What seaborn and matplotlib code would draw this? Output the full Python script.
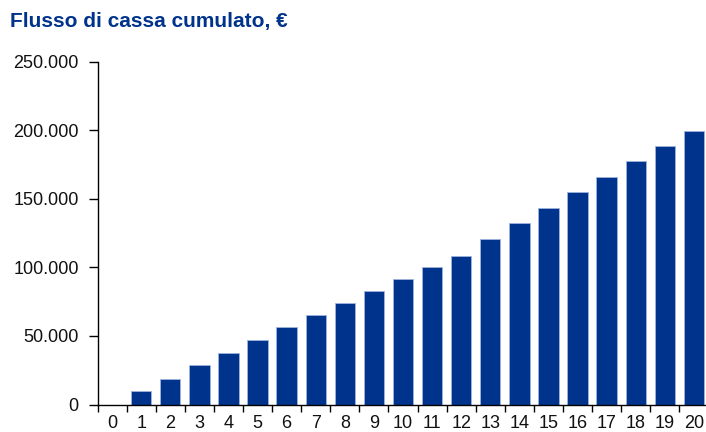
import matplotlib
matplotlib.use("Agg")
import matplotlib.pyplot as plt
import seaborn as sns
import pandas as pd
from matplotlib.ticker import FuncFormatter

years = [str(i) for i in range(21)]
cash_flow = [0, 9800, 18800, 28600, 37300, 47000, 56300, 65000, 73800, 82800,
             91800, 100500, 108500, 121000, 132100, 143500, 154800, 166100,
             177600, 188700, 199500]
y_ticks = [0, 50000, 100000, 150000, 200000, 250000]
title = "Flusso di cassa cumulato, €"

sns.set_theme(style="white")
plt.rcParams['font.family'] = ['Liberation Sans', 'DejaVu Sans']

df = pd.DataFrame({"anno": years, "flusso": cash_flow})

fig = plt.figure(figsize=(7.06, 4.32), dpi=100)
ax = fig.add_axes([97.5 / 706, (432 - 404.5) / 432, 611 / 706, (404.5 - 61.7) / 432])

sns.barplot(data=df, x="anno", y="flusso", color="#00338C", saturation=1,
            width=0.7, edgecolor="#9FB4DD", linewidth=0.6, ax=ax)

ax.set_xlim(-0.5, 20.5)
ax.set_ylim(0, 250000)
ax.set_yticks(y_ticks)
ax.yaxis.set_major_formatter(FuncFormatter(lambda v, p: f"{int(v):,}".replace(",", ".")))
ax.set_xlabel("")
ax.set_ylabel("")

for s in ["top", "right"]:
    ax.spines[s].set_visible(False)
for s in ["left", "bottom"]:
    ax.spines[s].set_color("black")
    ax.spines[s].set_linewidth(1.0)

# x ticks at category boundaries, labels centered
ax.set_xticks([i + 0.5 for i in range(-1, 20)], minor=False)
ax.set_xticklabels([])
ax.set_xticks(range(21), minor=True)
ax.set_xticklabels(years, minor=True)
ax.tick_params(axis="x", which="major", direction="out", length=5, width=1, color="black", bottom=True)
ax.tick_params(axis="x", which="minor", length=0, labelsize=13, pad=7.5, labelcolor="#111111")
ax.tick_params(axis="y", direction="out", length=6.5, width=1, color="black", left=True,
               labelsize=13, pad=7, labelcolor="#111111")

fig.text(10 / 706, 1 - 22 / 432, title, fontsize=15, fontweight="bold",
         color="#00338C", va="center", ha="left")

fig.savefig("out.png", dpi=100)
